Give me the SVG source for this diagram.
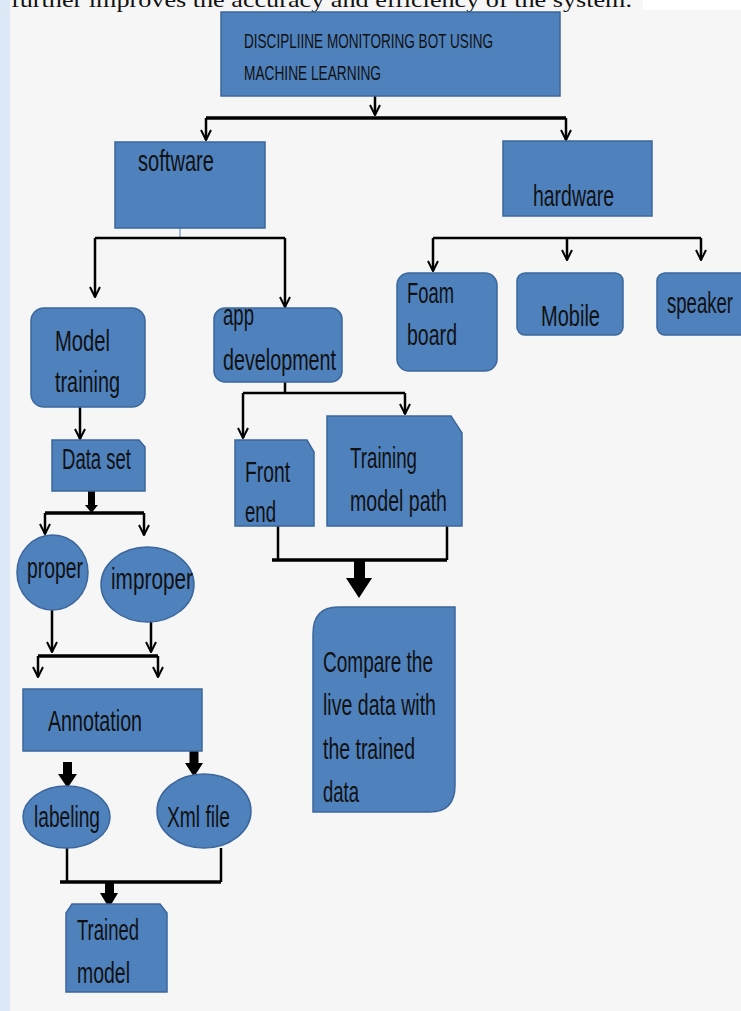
<svg xmlns="http://www.w3.org/2000/svg" width="741" height="1011" viewBox="0 0 741 1011">
<defs>
<style>
.box{fill:#4f81bd;stroke:#3b679b;stroke-width:1.5}
.t{font-family:"Liberation Sans",Arial,sans-serif;font-size:29px;fill:#111}
.tt{font-family:"Liberation Sans",Arial,sans-serif;font-size:21px;fill:#111}
.ln{fill:none;stroke:#000;stroke-width:2.5}
.bar{fill:none;stroke:#000;stroke-width:3.5}
.blk{fill:#000}
</style>
<marker id="oa" viewBox="0 0 12 12" refX="11" refY="6" markerWidth="12" markerHeight="12" markerUnits="userSpaceOnUse" orient="auto">
<path d="M1,1 L11,6 L1,11" fill="none" stroke="#000" stroke-width="2"/>
</marker>
</defs>
<rect x="0" y="0" width="741" height="1011" fill="#f6f6f6"/>
<rect x="0" y="0" width="10" height="1011" fill="#dde8f6"/>
<rect x="643" y="0" width="98" height="10" fill="#ffffff"/>
<text x="11" y="7" font-family="'Liberation Serif','Times New Roman',serif" font-size="22" fill="#111" textLength="621" lengthAdjust="spacingAndGlyphs">further improves the accuracy and efficiency of the system.</text>

<g id="connectors">
<path class="ln" d="M375,96 V115" marker-end="url(#oa)"/>
<path class="bar" d="M206,118 H566"/>
<path class="ln" d="M206,118 V140" marker-end="url(#oa)"/>
<path class="ln" d="M566,118 V140" marker-end="url(#oa)"/>
<path d="M180,228 V238" stroke="#8aa4c4" stroke-width="1.5" fill="none"/>
<path class="ln" d="M95,238 H285"/>
<path class="ln" d="M95,238 V297" marker-end="url(#oa)"/>
<path class="ln" d="M285,238 V307" marker-end="url(#oa)"/>
<path class="ln" d="M433,238 H701"/>
<path class="ln" d="M433,238 V271" marker-end="url(#oa)"/>
<path class="ln" d="M567,238 V260" marker-end="url(#oa)"/>
<path class="ln" d="M701,238 V260" marker-end="url(#oa)"/>
<path class="ln" d="M80,407 V439" marker-end="url(#oa)"/>
<polygon class="blk" points="88,491 95,491 95,505 98,505 91.5,513 85,505 88,505"/>
<path class="bar" d="M45,513 H144"/>
<path class="ln" d="M45,513 V534" marker-end="url(#oa)"/>
<path class="ln" d="M144,513 V535" marker-end="url(#oa)"/>
<path class="ln" d="M52,610 V652" marker-end="url(#oa)"/>
<path class="ln" d="M151,622 V652" marker-end="url(#oa)"/>
<path class="bar" d="M38,656 H158"/>
<path class="ln" d="M38,656 V677" marker-end="url(#oa)"/>
<path class="ln" d="M158,656 V677" marker-end="url(#oa)"/>
<polygon class="blk" points="63,762 72,762 72,774 77,774 67.5,788 58,774 63,774"/>
<polygon class="blk" points="189.5,751 198.5,751 198.5,763 203,763 194,777 185,763 189.5,763"/>
<path class="ln" d="M67,848 V882"/>
<path class="ln" d="M221,848 V882"/>
<path class="bar" d="M60,882 H221"/>
<polygon class="blk" points="105,882 114,882 114,893 118,893 109,908 100,893 105,893"/>
<path class="ln" d="M285,382 V393"/>
<path class="ln" d="M243,393 H405"/>
<path class="ln" d="M243,393 V438" marker-end="url(#oa)"/>
<path class="ln" d="M405,393 V414" marker-end="url(#oa)"/>
<path class="ln" d="M278,526 V560"/>
<path class="ln" d="M447,526 V560"/>
<path class="bar" d="M272,560 H447"/>
<polygon class="blk" points="354,560 365,560 365,578 372,578 359,598 346,578 354,578"/>
</g>

<g id="title">
<rect class="box" x="221" y="12" width="339" height="84"/>
<text class="tt" x="244" y="48" textLength="249" lengthAdjust="spacingAndGlyphs">DISCIPLIINE MONITORING BOT USING</text>
<text class="tt" x="244" y="80" textLength="137" lengthAdjust="spacingAndGlyphs">MACHINE LEARNING</text>
</g>
<g id="software">
<rect class="box" x="115" y="142" width="150" height="86"/>
<text class="t" x="138" y="171" textLength="76" lengthAdjust="spacingAndGlyphs">software</text>
</g>
<g id="hardware">
<rect class="box" x="503" y="141" width="149" height="75"/>
<text class="t" x="533" y="206" textLength="81" lengthAdjust="spacingAndGlyphs">hardware</text>
</g>
<g id="foam-board">
<rect class="box" x="397" y="273" width="100" height="98" rx="12"/>
<text class="t" x="407" y="303" textLength="47" lengthAdjust="spacingAndGlyphs">Foam</text>
<text class="t" x="407" y="345" textLength="50" lengthAdjust="spacingAndGlyphs">board</text>
</g>
<g id="mobile">
<rect class="box" x="517" y="273" width="106" height="62" rx="8"/>
<text class="t" x="541" y="326" textLength="59" lengthAdjust="spacingAndGlyphs">Mobile</text>
</g>
<g id="speaker">
<rect class="box" x="657" y="273" width="95" height="62" rx="8"/>
<text class="t" x="667" y="313" textLength="66" lengthAdjust="spacingAndGlyphs">speaker</text>
</g>
<g id="model-training">
<rect class="box" x="31" y="308" width="114" height="99" rx="13"/>
<text class="t" x="55" y="351" textLength="55" lengthAdjust="spacingAndGlyphs">Model</text>
<text class="t" x="55" y="392" textLength="65" lengthAdjust="spacingAndGlyphs">training</text>
</g>
<g id="app-development">
<rect class="box" x="214" y="308" width="128" height="74" rx="11"/>
<text class="t" x="223" y="325" textLength="31" lengthAdjust="spacingAndGlyphs">app</text>
<text class="t" x="223" y="370" textLength="113" lengthAdjust="spacingAndGlyphs">development</text>
</g>
<g id="data-set">
<path class="box" d="M52,440 H139 L145,447 V491 H52 Z"/>
<text class="t" x="62" y="469" textLength="69" lengthAdjust="spacingAndGlyphs">Data set</text>
</g>
<g id="proper">
<ellipse class="box" cx="52.5" cy="572.5" rx="35.5" ry="37.5"/>
<text class="t" x="27" y="578" textLength="56" lengthAdjust="spacingAndGlyphs">proper</text>
</g>
<g id="improper">
<ellipse class="box" cx="147.5" cy="584.5" rx="46.5" ry="37.5"/>
<text class="t" x="111" y="589" textLength="82" lengthAdjust="spacingAndGlyphs">improper</text>
</g>
<g id="annotation">
<rect class="box" x="23" y="689" width="179" height="62"/>
<text class="t" x="48" y="731" textLength="94" lengthAdjust="spacingAndGlyphs">Annotation</text>
</g>
<g id="labeling">
<ellipse class="box" cx="66.5" cy="817" rx="43.5" ry="31"/>
<text class="t" x="34" y="827" textLength="66" lengthAdjust="spacingAndGlyphs">labeling</text>
</g>
<g id="xml-file">
<ellipse class="box" cx="204" cy="811" rx="47" ry="37"/>
<text class="t" x="167" y="827" textLength="63" lengthAdjust="spacingAndGlyphs">Xml file</text>
</g>
<g id="trained-model">
<path class="box" d="M72,904 H160 L167,913 V992 H66 V913 Z"/>
<text class="t" x="77" y="940" textLength="62" lengthAdjust="spacingAndGlyphs">Trained</text>
<text class="t" x="77" y="983" textLength="53" lengthAdjust="spacingAndGlyphs">model</text>
</g>
<g id="front-end">
<path class="box" d="M235,440 H307 L314,452 V526 H235 Z"/>
<text class="t" x="245" y="482" textLength="45" lengthAdjust="spacingAndGlyphs">Front</text>
<text class="t" x="245" y="522" textLength="31" lengthAdjust="spacingAndGlyphs">end</text>
</g>
<g id="training-model-path">
<path class="box" d="M327,416 H451 L462,433 V526 H327 Z"/>
<text class="t" x="350" y="468" textLength="67" lengthAdjust="spacingAndGlyphs">Training</text>
<text class="t" x="350" y="511" textLength="97" lengthAdjust="spacingAndGlyphs">model path</text>
</g>
<g id="compare">
<path class="box" d="M338,607 H455 V785 Q455,812 430,812 H313 V634 Q313,607 338,607 Z"/>
<text class="t" x="323" y="672" textLength="110" lengthAdjust="spacingAndGlyphs">Compare the</text>
<text class="t" x="323" y="715" textLength="113" lengthAdjust="spacingAndGlyphs">live data with</text>
<text class="t" x="323" y="759" textLength="92" lengthAdjust="spacingAndGlyphs">the trained</text>
<text class="t" x="323" y="802" textLength="36" lengthAdjust="spacingAndGlyphs">data</text>
</g>
</svg>
